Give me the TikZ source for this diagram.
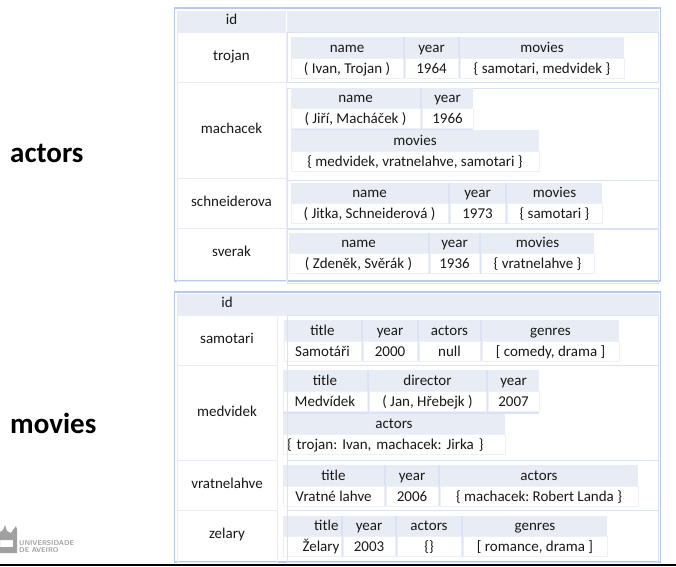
\documentclass[tikz,border=0pt]{standalone}
\usepackage{fontspec}
\setmainfont{Carlito}
\usetikzlibrary{shapes.geometric, arrows}
\definecolor{headfill}{HTML}{E8ECF4}
\definecolor{rowline}{HTML}{E8EDF7}
\definecolor{rowblue}{HTML}{D9E3F5}
\definecolor{tableline}{HTML}{B7CAEE}
\definecolor{cellline}{HTML}{EDF0F6}
\definecolor{crest}{HTML}{A0A0A0}
\tikzstyle{hd} = [rectangle, fill=headfill, draw=none, inner sep=0pt, outer sep=0pt, minimum height=21pt, text centered, text height=12pt, text depth=3pt, font=\fontsize{15}{15}\selectfont, text=black!90]
\tikzstyle{vl} = [rectangle, fill=white, draw=cellline, inner sep=0pt, outer sep=0pt, minimum height=20pt, text centered, text height=13pt, text depth=3pt, font=\fontsize{15}{15}\selectfont, text=black!90]
\tikzstyle{group} = [rectangle, fill=rowblue, draw=none, inner sep=0pt, outer sep=0pt]
\tikzstyle{idcell} = [rectangle, draw=rowline, inner sep=0pt, outer sep=0pt]
\tikzstyle{idtext} = [inner sep=0pt, text height=14pt, text depth=3pt, font=\fontsize{15}{15}\selectfont, text=black!90]
\tikzstyle{rowbox} = [rectangle, draw=rowblue, line width=1pt, inner sep=0pt, outer sep=0pt]
\tikzstyle{tablebox} = [rectangle, draw=tableline, line width=1.2pt, inner sep=0pt, outer sep=0pt, fill=white]
\tikzstyle{titletext} = [font=\bfseries\fontsize{29}{29}\selectfont, inner sep=0pt, anchor=west]
\begin{document}
\frenchspacing
\begin{tikzpicture}[x=1pt, y=-1pt, node distance=20.5pt]
        \useasboundingbox (0,0) rectangle (676,566);
        \node (actorstitle) [titletext] at (10,153) {actors};
        \node (moviestitle) [titletext] at (10,423) {movies};

        % actors table
        \node (actorsbox) [tablebox, minimum width=486pt, minimum height=273pt] at (417.5,144.5) {};
        \node (actorsid) [hd, minimum width=109pt] at (231.5,21.5) {};
        \node (actorsrest) [hd, minimum width=371pt, draw=rowline] at (472.5,21.5) {};
        \node (trojan) [idcell, minimum width=109pt, minimum height=50pt] at (231.5,57) {};
        \node (machacek) [idcell, minimum width=109pt, minimum height=96pt] at (231.5,130) {};
        \node (schneiderova) [idcell, minimum width=109pt, minimum height=50pt] at (231.5,203) {};
        \node (sverak) [idcell, minimum width=109pt, minimum height=53pt] at (231.5,254.5) {};
        \node (actorsidtext) [idtext, text height=12pt] at (231.5,19.5) {id};
        \node (trojantext) [idtext] at (231.5,55) {trojan};
        \node (machacektext) [idtext] at (231.5,128) {machacek};
        \node (schneiderovatext) [idtext] at (231.5,201) {schneiderova};
        \node (sveraktext) [idtext] at (231.5,251) {sverak};

        \node (trojanrow) [rowbox, minimum width=371pt, minimum height=50pt] at (472.5,57) {};
        \node (machacekrow) [rowbox, minimum width=371pt, minimum height=92pt] at (472.5,134) {};
        \node (schneiderovarow) [rowbox, minimum width=371pt, minimum height=48pt] at (472.5,204.5) {};
        \node (sverakrow) [rowbox, minimum width=371pt, minimum height=54pt] at (472.5,256) {};

        \node (tgroup) [group, minimum width=333pt, minimum height=41pt] at (457.5,57.5) {};
        \node (tn) [hd, minimum width=112pt] at (347,47.5) {name};
        \node (tnv) [vl, minimum width=112pt, below of=tn] {( Ivan, Trojan )};
        \node (ty) [hd, minimum width=53pt] at (431.5,47.5) {year};
        \node (tyv) [vl, minimum width=53pt, below of=ty] {1964};
        \node (tm) [hd, minimum width=164pt] at (542,47.5) {movies};
        \node (tmv) [vl, minimum width=164pt, below of=tm] {\{ samotari, medvidek \}};

        \node (mgroup) [group, minimum width=182pt, minimum height=43.5pt] at (382,109.25) {};
        \node (mn) [hd, minimum width=129pt] at (355.5,98) {name};
        \node (mnv) [vl, minimum width=129pt, below of=mn] {( Jiří, Macháček )};
        \node (my) [hd, minimum width=51pt] at (447.5,98) {year};
        \node (myv) [vl, minimum width=51pt, below of=my] {1966};
        \node (mm) [hd, minimum width=248pt] at (415,140.5) {movies};
        \node (mmv) [vl, minimum width=248pt, below of=mm] {\{ medvidek, vratnelahve, samotari \}};

        \node (sgroup) [group, minimum width=311pt, minimum height=41pt] at (446.5,203) {};
        \node (sn) [hd, minimum width=157pt] at (369.5,193) {name};
        \node (snv) [vl, minimum width=157pt, below of=sn] {( Jitka, Schneiderová )};
        \node (sy) [hd, minimum width=55pt] at (477.5,193) {year};
        \node (syv) [vl, minimum width=55pt, below of=sy] {1973};
        \node (sm) [hd, minimum width=95pt] at (554.5,193) {movies};
        \node (smv) [vl, minimum width=95pt, below of=sm] {\{ samotari \}};

        \node (vgroup) [group, minimum width=305pt, minimum height=41pt] at (441.5,253) {};
        \node (vn) [hd, minimum width=139pt] at (358.5,243) {name};
        \node (vnv) [vl, minimum width=139pt, below of=vn] {( Zdeněk, Svěrák )};
        \node (vy) [hd, minimum width=49pt] at (454.5,243) {year};
        \node (vyv) [vl, minimum width=49pt, below of=vy] {1936};
        \node (vm) [hd, minimum width=113pt] at (537.5,243) {movies};
        \node (vmv) [vl, minimum width=113pt, below of=vm] {\{ vratnelahve \}};

        % movies table
        \node (moviesbox) [tablebox, minimum width=486pt, minimum height=270pt] at (417.5,427) {};
        \node (moviesid) [hd, minimum width=100pt] at (227,304.5) {};
        \node (moviesrest) [hd, minimum width=381pt, draw=rowline] at (467.5,304.5) {};
        \node (samotari) [idcell, minimum width=100pt, minimum height=50pt] at (227,340) {};
        \node (medvidek) [idcell, minimum width=100pt, minimum height=95pt] at (227,412.5) {};
        \node (vratnelahve) [idcell, minimum width=100pt, minimum height=50pt] at (227,485) {};
        \node (zelary) [idcell, minimum width=100pt, minimum height=52pt] at (227,536) {};
        \node (moviesidtext) [idtext, text height=12pt] at (227,303) {id};
        \node (samotaritext) [idtext] at (227,338) {samotari};
        \node (medvidektext) [idtext] at (227,410.5) {medvidek};
        \node (vratnelahvetext) [idtext] at (227,483) {vratnelahve};
        \node (zelarytext) [idtext] at (227,533) {zelary};

        \node (agroup) [group, minimum width=335pt, minimum height=41pt] at (451.5,340.5) {};
        \node (at) [hd, minimum width=77pt] at (322.5,330.5) {title};
        \node (atv) [vl, minimum width=77pt, below of=at] {Samotáři};
        \node (ay) [hd, minimum width=54pt] at (390,330.5) {year};
        \node (ayv) [vl, minimum width=54pt, below of=ay] {2000};
        \node (aa) [hd, minimum width=61pt] at (449.5,330.5) {actors};
        \node (aav) [vl, minimum width=61pt, below of=aa] {null};
        \node (ag) [hd, minimum width=137pt] at (550.5,330.5) {genres};
        \node (agv) [vl, minimum width=137pt, below of=ag] {[ comedy, drama ]};

        \node (bgroup) [group, minimum width=256pt, minimum height=43.5pt] at (411,391.75) {};
        \node (bt) [hd, minimum width=84pt] at (325,380.5) {title};
        \node (btv) [vl, minimum width=84pt, below of=bt] {Medvídek};
        \node (bd) [hd, minimum width=117pt] at (427.5,380.5) {director};
        \node (bdv) [vl, minimum width=117pt, below of=bd] {( Jan, Hřebejk )};
        \node (by) [hd, minimum width=51pt] at (513.5,380.5) {year};
        \node (byv) [vl, minimum width=51pt, below of=by] {2007};
        \node (ba) [hd, minimum width=222pt] at (394,424) {actors};
        \node (bav) [vl, minimum width=222pt, text width=214pt, align=left, below of=ba] {\{ trojan: Ivan, machacek: Jirka \}};

        \node (cgroup) [group, minimum width=355pt, minimum height=41pt] at (460.5,485.5) {};
        \node (ct) [hd, minimum width=101pt] at (333.5,475.5) {title};
        \node (ctv) [vl, minimum width=101pt, below of=ct] {Vratné lahve};
        \node (cy) [hd, minimum width=52pt] at (412,475.5) {year};
        \node (cyv) [vl, minimum width=52pt, below of=cy] {2006};
        \node (ca) [hd, minimum width=198pt] at (539,475.5) {actors};
        \node (cav) [vl, minimum width=198pt, below of=ca] {\{ machacek: Robert Landa \}};

        \node (dgroup) [group, minimum width=324pt, minimum height=41pt] at (445,536) {};
        \node (dt) [hd, minimum width=58pt, text width=53pt, align=right] at (312,526) {title};
        \node (dtv) [vl, minimum width=58pt, text width=55pt, align=right, below of=dt] {Želary};
        \node (dy) [hd, minimum width=52pt] at (369,526) {year};
        \node (dyv) [vl, minimum width=52pt, below of=dy] {2003};
        \node (da) [hd, minimum width=64pt] at (429,526) {actors};
        \node (dav) [vl, minimum width=64pt, below of=da] {\{\}};
        \node (dg) [hd, minimum width=144pt] at (535,526) {genres};
        \node (dgv) [vl, minimum width=144pt, below of=dg] {[ romance, drama ]};

        \node (samotarirow) [rowbox, minimum width=371pt, minimum height=50pt] at (472.5,340) {};
        \node (medvidekrow) [rowbox, minimum width=371pt, minimum height=95pt] at (472.5,412.5) {};
        \node (vratnelahverow) [rowbox, minimum width=371pt, minimum height=50pt] at (472.5,485) {};
        \node (zelaryrow) [rowbox, minimum width=371pt, minimum height=52pt] at (472.5,536) {};

        % logo and bottom rule
        \fill [crest, even odd rule] (0,553) -- (0,532) -- (3,530) -- (5,525) -- (7,531) -- (11,533) -- (13,530) -- (16,526) -- (17,529) -- (17,553) -- cycle (0,540) rectangle (13,547);
        \node (logotext) [anchor=west, inner sep=0pt, text=crest, align=left, font=\sffamily\bfseries\fontsize{7}{7}\selectfont] at (19,546.5) {UNIVERSIDADE\\DE AVEIRO};
        \draw [black, line width=1.2pt] (0,565) -- (676,565);
\end{tikzpicture}
\end{document}
